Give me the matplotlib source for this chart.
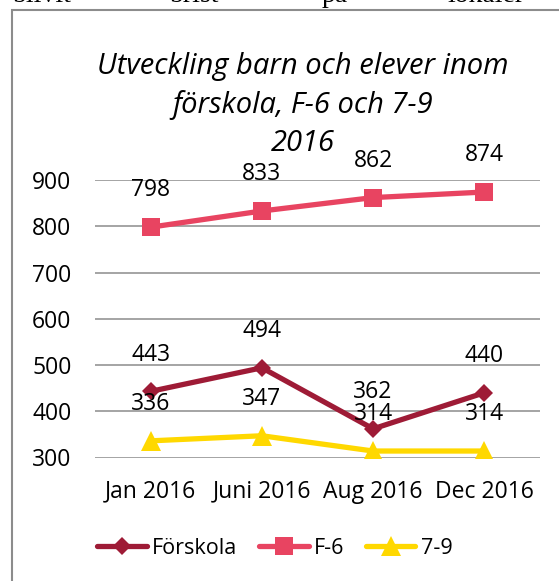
import matplotlib
matplotlib.use("Agg")
import matplotlib.pyplot as plt
from matplotlib.patches import Rectangle

categories = ["Jan 2016", "Juni 2016", "Aug 2016", "Dec 2016"]
forskola = [443, 494, 362, 440]
f6 = [798, 833, 862, 874]
s79 = [336, 347, 314, 314]
yticks = [300, 400, 500, 600, 700, 800, 900]
title = "Utveckling barn och elever inom\nförskola, F-6 och 7-9\n2016"
top_words = ["blivit", "brist", "på", "lokaler"]

plt.rcParams['font.family'] = ['Open Sans', 'DejaVu Sans']

W, H = 559, 581
fig = plt.figure(figsize=(W / 100, H / 100), dpi=100)

def fx(px):
    return px / W

def fy(py):
    return 1 - py / H

# chart frame
fig.patches.append(Rectangle((fx(12), fy(H + 20)), fx(W + 20) - fx(12), fy(10) - fy(H + 20),
                             transform=fig.transFigure, fill=False,
                             edgecolor='#8c8c8c', linewidth=1.5))

# clipped serif body text above the chart
for word, xp in zip(top_words, [13, 170, 322, 447]):
    fig.text(fx(xp), fy(2.5), word, fontsize=20, family='Liberation Serif',
             ha='left', va='baseline')

ax = fig.add_axes([fx(95), fy(457.5), fx(540) - fx(95), fy(180) - fy(457.5)])
x = list(range(len(categories)))

series = [
    ("Förskola", forskola, '#9E1B36', 'D', 9.5),
    ("F-6", f6, '#E84461', 's', 13),
    ("7-9", s79, '#FFD800', '^', 14.5),
]
for name, vals, col, mk, ms in series:
    ax.plot(x, vals, color=col, lw=3.8, marker=mk, markersize=ms,
            markeredgewidth=0, label=name, solid_capstyle='round', zorder=3)
    for xi, v in zip(x, vals):
        ax.annotate(str(v), (xi, v), xytext=(0, 26.5), textcoords='offset points',
                    ha='center', va='center', fontsize=16.5, zorder=4)

ax.set_xlim(-0.5, len(categories) - 0.5)
ax.set_ylim(min(yticks), max(yticks))
ax.set_yticks(yticks)
ax.set_xticks(x)
ax.set_xticklabels(categories)
ax.grid(axis='y', color='#8c8c8c', linewidth=1.1)
ax.set_axisbelow(True)
for s in ax.spines.values():
    s.set_visible(False)
ax.tick_params(axis='both', length=0, labelsize=16.5)
ax.tick_params(axis='y', pad=17)
ax.tick_params(axis='x', pad=16)
ax.patch.set_alpha(0)

fig.text(fx(303), fy(105), title, ha='center', va='center', fontsize=21,
         style='italic', linespacing=1.42)

fig.legend(loc='center', bbox_to_anchor=(fx(275), fy(548)), ncol=3, frameon=False,
           fontsize=15.5, handlelength=2.3, handletextpad=0.25, columnspacing=1.0,
           borderpad=0)

fig.savefig("out.png", dpi=100)
